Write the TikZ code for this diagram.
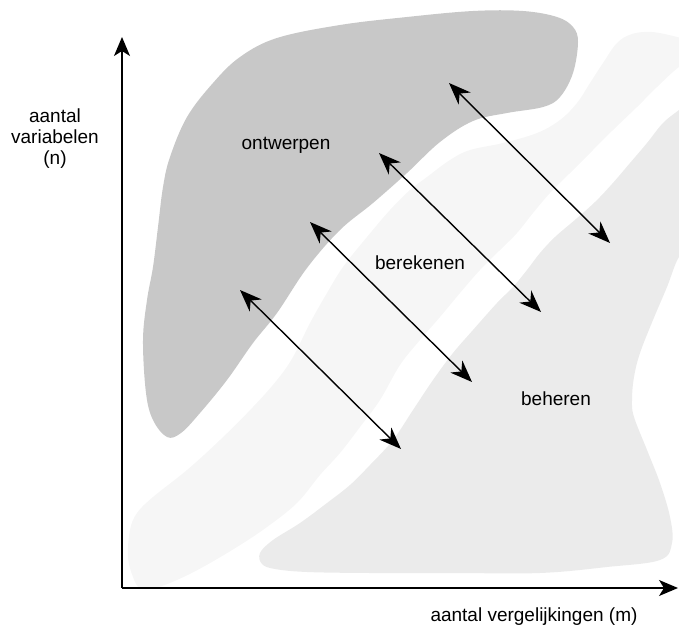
\documentclass[tikz,border=0pt]{standalone}
\usepackage{fontspec}
\setmainfont{Liberation Sans}
\usepackage{tikz}
\usetikzlibrary{arrows.meta}

\definecolor{ontwerpgrijs}{HTML}{C8C8C8}
\definecolor{rekengrijs}{HTML}{F6F6F6}
\definecolor{beheergrijs}{HTML}{EBEBEB}

\begin{document}
\begin{tikzpicture}[x=1pt,y=-1pt,
  as/.style={line width=1.3pt,-{Stealth[length=19pt,width=16pt,inset=5pt]}},
  pijl/.style={line width=1.4pt,{Stealth[length=22pt,width=17pt,inset=7pt]}-{Stealth[length=22pt,width=17pt,inset=7pt]}},
  tekst/.style={font=\fontsize{19}{21}\selectfont}]
\useasboundingbox (0,0) rectangle (679,628);

% gebieden
\begin{scope}
\clip (0,0) rectangle (679,628);
\fill[rekengrijs] plot[smooth cycle, tension=0.6] coordinates {
  (140,588) (133,577) (128,557) (130,530) (137,513) (153,497) (187,470)
  (220,440) (253,407) (277,380) (293,357) (310,323) (327,293) (343,267)
  (367,237) (390,210) (410,190) (427,177) (450,160) (470,150) (503,143)
  (537,133) (560,120) (577,103) (590,83) (603,63) (617,43) (632,34)
  (652,32) (677,37) (692,42) (692,62) (679,67) (657,87) (637,107)
  (613,130) (590,153) (570,173) (550,193) (533,213) (517,233) (500,250)
  (480,270) (460,293) (440,317) (420,340) (400,365) (380,400) (360,427)
  (340,453) (320,475) (297,503) (267,527) (237,547) (203,567) (177,580)
  (155,588)};
\fill[beheergrijs] plot[smooth cycle, tension=0.6] coordinates {
  (692,100) (679,110) (663,123) (647,143) (630,163) (612,184) (595,202)
  (576,219) (555,237) (540,253) (527,270) (513,287) (497,303) (473,330)
  (453,353) (433,380) (413,410) (393,440) (370,465) (350,485) (327,503)
  (300,523) (273,540) (260,553) (262,564) (275,569) (307,572) (370,573)
  (453,573) (540,573) (607,567) (660,560) (672,543) (670,517) (660,483)
  (647,450) (634,417) (632,400) (634,377) (640,353) (653,320) (667,287)
  (679,257) (692,250)};
\fill[ontwerpgrijs] plot[smooth cycle, tension=0.6] coordinates {
  (340,25) (277,38) (240,57) (213,83) (187,117) (170,157) (163,187)
  (158,227) (153,267) (147,300) (143,340) (146,393) (153,420) (167,437)
  (181,433) (200,413) (227,380) (253,343) (277,313) (307,268) (340,230)
  (373,203) (407,173) (440,142) (473,121) (507,113) (543,107) (560,97)
  (573,73) (578,42) (573,27) (557,17) (523,11) (473,11) (407,17)};
\end{scope}

% assen
\coordinate (O) at (122,588);
\coordinate (ytop) at (122,37);
\coordinate (xeind) at (678,588);
\draw[as] (O) -- (ytop);
\draw[as] (O) -- (xeind);

\node[tekst, align=center] (yas) at (55,139) {aantal\\variabelen\\(n)};
\node[tekst, anchor=base] (xas) at (534,621) {aantal vergelijkingen (m)};

\node[tekst, anchor=base] (ontwerpen) at (286,150) {ontwerpen};
\node[tekst, anchor=base] (berekenen) at (420,269) {berekenen};
\node[tekst, anchor=base] (beheren) at (556,405) {beheren};

% pijlen
\coordinate (p1a) at (240,290);
\coordinate (p1b) at (401,449);
\coordinate (p2a) at (310,222);
\coordinate (p2b) at (472,382);
\coordinate (p3a) at (379,153);
\coordinate (p3b) at (541,312);
\coordinate (p4a) at (449,83);
\coordinate (p4b) at (610,243);
\draw[pijl] (p1a) -- (p1b);
\draw[pijl] (p2a) -- (p2b);
\draw[pijl] (p3a) -- (p3b);
\draw[pijl] (p4a) -- (p4b);
\end{tikzpicture}
\end{document}
